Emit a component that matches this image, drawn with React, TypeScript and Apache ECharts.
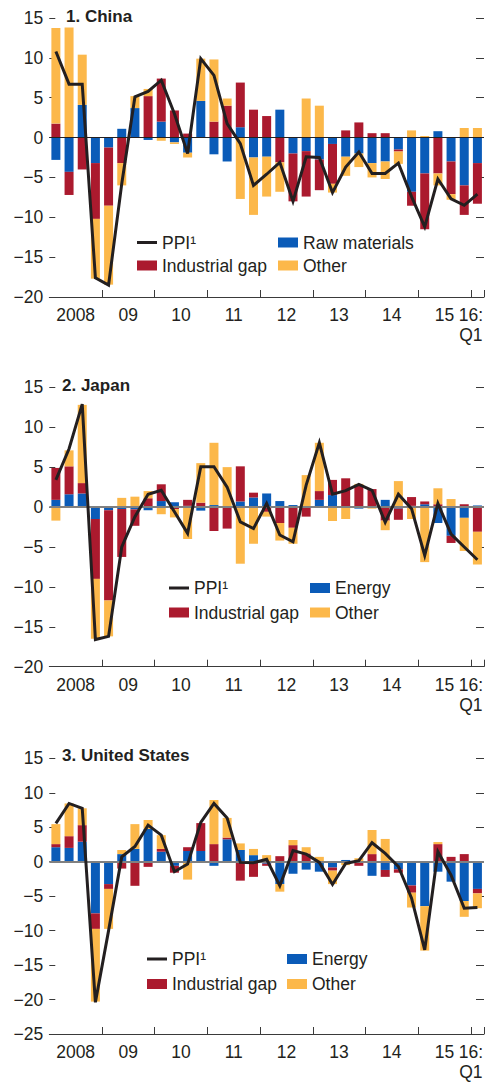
import React, { useEffect, useRef } from 'react';
import * as echarts from 'echarts';

// ---------- data ----------
const years = ['2008', '2009', '2010', '2011', '2012', '2013', '2014', '2015'];
const quarterNames = ['Q1', 'Q2', 'Q3', 'Q4'];
const categories: string[] = [];
years.forEach((y) => quarterNames.forEach((q) => categories.push(y + q)));
categories.push('2016Q1');

const yearTickLabels = ['2008', '09', '10', '11', '12', '13', '14', '15', '16:\nQ1'];

// 1. China
const chinaRaw = [-2.8, -4.3, 4.1, -3.2, -1.25, 1.1, 3.7, -0.3, 2.0, -0.6, -1.9, 4.6, -2.1, -3.0, 1.3, -2.5, -2.4, 3.5, -2.0, -1.7, -2.75, -0.8, -2.4, -2.0, -3.2, -3.0, -1.5, -6.8, -4.5, 0.8, -3.0, -6.0, -3.2];
const chinaGap = [1.75, -2.9, -4.0, -7.0, -7.3, -3.2, 0, 5.2, 5.4, 3.4, 0.5, 0, 2.0, 4.0, 5.6, 3.5, 2.7, -3.1, -6.0, -5.7, -3.85, -5.0, 0.9, 1.9, 0.55, 0.55, -0.25, -1.75, -7.0, -4.5, -4.1, -3.7, -5.1];
const chinaOther = [12.0, 13.8, 6.3, -7.5, -9.9, -2.8, 1.5, 0.9, -0.4, -0.2, -0.6, 5.3, 7.8, 0.9, -7.7, -7.2, -5.0, -3.7, 0, 4.9, 4.0, -1.1, -2.4, -1.7, -1.8, -2.2, -1.55, 0.9, 0.2, -1.5, -0.7, 1.2, 1.2];
const chinaPPI = [10.8, 6.7, 6.7, -17.6, -18.5, -5.8, 5.1, 5.8, 7.2, 3.0, -2.0, 9.9, 7.8, 1.75, -0.75, -6.0, -4.6, -3.1, -8.0, -2.4, -2.5, -6.9, -3.7, -1.8, -4.5, -4.5, -3.2, -7.4, -11.2, -5.2, -7.7, -8.5, -7.1];

// 2. Japan
const japanEnergy = [0.9, 1.6, 1.7, -1.5, -0.4, -0.25, -0.3, -0.4, 0.75, 0.6, 0.15, -0.45, 0.25, -0.1, 0.7, 1.2, 1.7, 0.75, 0.25, -0.1, 0.9, 1.5, 0.1, -0.2, 0, 0.9, -0.2, 0.15, 0.35, -2.0, -3.6, -1.35, 0.2];
const japanGap = [4.0, 3.5, 1.3, -7.5, -11.3, -6.0, -2.05, 1.1, 2.1, -0.25, 0.75, 0.55, -3.0, -2.6, 4.4, 0.6, -0.6, -2.0, -2.6, -1.1, 1.1, 1.9, 3.5, 2.7, 2.25, -1.7, -1.4, 1.1, 0.35, 0.35, -0.9, 0.35, -3.1];
const japanOther = [-1.7, 2.0, 9.8, -7.5, -4.5, 1.15, 1.3, 0.9, -0.9, -1.05, -4.0, 4.95, 7.8, 5.0, -7.1, -4.6, -0.6, -2.2, -2.0, 4.0, 6.05, -1.75, -1.5, 0.2, -0.2, -1.2, 3.25, -1.5, -6.9, 2.0, 1.0, -4.15, -4.1];
const japanPPI = [3.4, 7.3, 12.9, -16.6, -16.2, -5.0, -1.2, 1.6, 2.1, -0.6, -3.3, 5.05, 5.05, 2.5, -1.85, -2.7, 0.45, -3.5, -4.35, 2.75, 8.05, 1.6, 2.05, 2.85, 2.1, -1.9, 1.6, -0.2, -6.05, 0.45, -3.4, -5.0, -6.6];

// 3. United States
const usEnergy = [2.1, 2.0, 2.9, -7.5, -3.25, 1.1, 1.85, 4.75, 1.45, -0.6, 1.55, 1.55, -0.6, 3.25, 1.7, 0.95, -0.3, -3.25, -1.75, -1.15, -1.45, -0.85, 0.25, 0, -2.05, -1.2, -1.1, -3.45, -6.45, -1.45, -2.9, -5.7, -3.95];
const usGap = [0.45, 1.7, 2.4, -2.25, -0.7, -1.0, -3.5, -0.75, 0.4, -1.0, 0.55, 4.05, 2.55, 0.25, -2.75, -2.2, -0.3, 0.8, 2.4, 1.2, 0, -0.45, 0, -0.6, 1.1, -1.0, -0.5, -1.05, 0, 2.55, 0.7, 1.1, -0.65];
const usOther = [2.9, 4.75, 2.45, -10.55, -5.8, 0.6, 3.6, 1.3, 2.0, 0, -2.6, 0, 6.4, 2.85, 0.95, 0.9, 0.95, -1.1, 0.75, 0.9, 0.7, -1.95, -0.5, 0.5, 3.5, 3.3, 0, -2.15, -6.45, 0.3, 0, -2.3, -2.15];
const usPPI = [5.55, 8.45, 7.75, -20.4, -10.0, 0.7, 2.2, 5.3, 3.85, -1.45, -0.35, 5.7, 8.45, 6.35, -0.1, -0.15, 0.35, -3.5, 1.6, 1.1, -0.1, -3.3, -0.25, 0.15, 2.75, 1.2, -0.7, -5.3, -12.8, 1.45, -1.95, -6.75, -6.65];

// ---------- styling ----------
const FONT = "'Liberation Sans', Arial, sans-serif";
const TXT = '#231f20';
const BLUE = '#0a5bb8';
const RED = '#ab1a2e';
const YELLOW = '#fcb84a';
const PPI_NAME = 'PPI\u00b9';

type Panel = {
  title: string;
  titleLeft: number;
  titleTop: number;
  top: number;
  height: number;
  min: number;
  max: number;
  blueName: string;
  blue: number[];
  gap: number[];
  other: number[];
  ppi: number[];
  zeroColor: string;
  zeroWidth: number;
  legendLeft1: number;
  legendLeft2: number;
  legendTop: number;
  legendGap: number;
};

const panels: Panel[] = [
  {
    title: '1. China', titleLeft: 66, titleTop: 8, top: 18, height: 279, min: -20, max: 15,
    blueName: 'Raw materials', blue: chinaRaw, gap: chinaGap, other: chinaOther, ppi: chinaPPI,
    zeroColor: '#231f20', zeroWidth: 1, legendLeft1: 137, legendLeft2: 278, legendTop: 233.5, legendGap: 5,
  },
  {
    title: '2. Japan', titleLeft: 62, titleTop: 377, top: 387.3, height: 279.4, min: -20, max: 15,
    blueName: 'Energy', blue: japanEnergy, gap: japanGap, other: japanOther, ppi: japanPPI,
    zeroColor: '#808080', zeroWidth: 2, legendLeft1: 169, legendLeft2: 310, legendTop: 579, legendGap: 6.5,
  },
  {
    title: '3. United States', titleLeft: 62, titleTop: 747, top: 758.3, height: 275.7, min: -25, max: 15,
    blueName: 'Energy', blue: usEnergy, gap: usGap, other: usOther, ppi: usPPI,
    zeroColor: '#808080', zeroWidth: 2, legendLeft1: 147, legendLeft2: 287, legendTop: 950, legendGap: 7,
  },
];

const labelAt: Record<number, string> = {};
yearTickLabels.forEach((l, i) => {
  labelAt[i < 8 ? 2 + i * 4 : 32] = l;
});

function buildOption() {
  const grid: any[] = [];
  const xAxis: any[] = [];
  const yAxis: any[] = [];
  const series: any[] = [];
  const legend: any[] = [];
  const graphic: any[] = [];
  const textStyle = { color: TXT, fontFamily: FONT, fontSize: 17.5 };

  panels.forEach((p, g) => {
    grid.push({ left: 49.3, right: 2.8, top: p.top, height: p.height, containLabel: false });
    xAxis.push({
      type: 'category', gridIndex: g, data: categories, position: 'bottom',
      axisLine: { show: true, onZero: false, lineStyle: { color: '#3a3a3a', width: 1 } },
      axisTick: { show: true, inside: true, length: 7, interval: (i: number) => i > 0 && i % 4 === 0, lineStyle: { color: '#3a3a3a' } },
      axisLabel: { show: false }, splitLine: { show: false },
    });
    xAxis.push({
      type: 'value', gridIndex: g, min: 0, max: 33, interval: 2, position: 'bottom',
      axisLine: { show: false, onZero: false }, axisTick: { show: false }, splitLine: { show: false },
      axisLabel: {
        show: true, margin: 8, color: TXT, fontFamily: FONT, fontSize: 17.5, lineHeight: 20,
        showMinLabel: true, showMaxLabel: true,
        formatter: (v: number) => labelAt[v] || '',
      },
    });
    const yCommon = {
      type: 'value', gridIndex: g, min: p.min, max: p.max, interval: 5,
      axisLine: { show: false }, splitLine: { show: false },
    };
    yAxis.push({
      ...yCommon, position: 'left',
      axisTick: { show: true, inside: true, length: 6, lineStyle: { color: '#3a3a3a' } },
      axisLabel: {
        show: true, margin: 6, color: TXT, fontFamily: FONT, fontSize: 17.5,
        formatter: (v: number) => String(v).replace('-', '\u2212'),
      },
    });
    yAxis.push({
      ...yCommon, position: 'right',
      axisTick: { show: true, inside: true, length: 8, lineStyle: { color: '#3a3a3a' } },
      axisLabel: { show: false },
    });

    const barCommon = {
      type: 'bar', xAxisIndex: 2 * g, yAxisIndex: 2 * g, stack: 'panel' + g,
      barWidth: 9, z: 2,
    };
    series.push({ ...barCommon, name: p.blueName, data: p.blue, itemStyle: { color: BLUE } });
    series.push({ ...barCommon, name: 'Industrial gap', data: p.gap, itemStyle: { color: RED } });
    series.push({
      ...barCommon, name: 'Other', data: p.other, itemStyle: { color: YELLOW },
      markLine: {
        silent: true, symbol: ['none', 'none'], label: { show: false },
        lineStyle: { color: p.zeroColor, width: p.zeroWidth, type: 'solid' },
        emphasis: { disabled: true },
        data: [{ yAxis: 0 }],
      },
    });
    series.push({
      type: 'line', name: PPI_NAME, xAxisIndex: 2 * g, yAxisIndex: 2 * g, data: p.ppi,
      symbol: 'none', z: 5,
      lineStyle: { color: TXT, width: 3, join: 'miter' },
      itemStyle: { color: TXT },
    });

    legend.push({
      orient: 'vertical', left: p.legendLeft1, top: p.legendTop, padding: 0,
      itemWidth: 20, itemHeight: 10, itemGap: p.legendGap, textStyle,
      selectedMode: false,
      data: [
        { name: PPI_NAME, icon: 'path://M0,0H20V3H0Z' },
        { name: 'Industrial gap', icon: 'rect' },
      ],
    });
    legend.push({
      orient: 'vertical', left: p.legendLeft2, top: p.legendTop, padding: 0,
      itemWidth: 20, itemHeight: 10, itemGap: p.legendGap, textStyle,
      selectedMode: false,
      data: [
        { name: p.blueName, icon: 'rect' },
        { name: 'Other', icon: 'rect' },
      ],
    });

    graphic.push({
      type: 'text', left: p.titleLeft, top: p.titleTop,
      style: { text: p.title, fill: TXT, fontSize: 17, fontWeight: 'bold', fontFamily: FONT },
    });
  });

  return {
    animation: false,
    backgroundColor: '#ffffff',
    textStyle: { fontFamily: FONT },
    grid, xAxis, yAxis, series, legend, graphic,
  };
}

export default function App() {
  const ref = useRef<HTMLDivElement>(null);
  useEffect(() => {
    if (!ref.current) return;
    const chart = echarts.init(ref.current, undefined, { renderer: 'svg' });
    chart.setOption(buildOption() as any);
    return () => chart.dispose();
  }, []);
  return (
    <div
      ref={ref}
      style={{ position: 'absolute', left: 0, top: 0, width: 487, height: 1088 }}
    />
  );
}
